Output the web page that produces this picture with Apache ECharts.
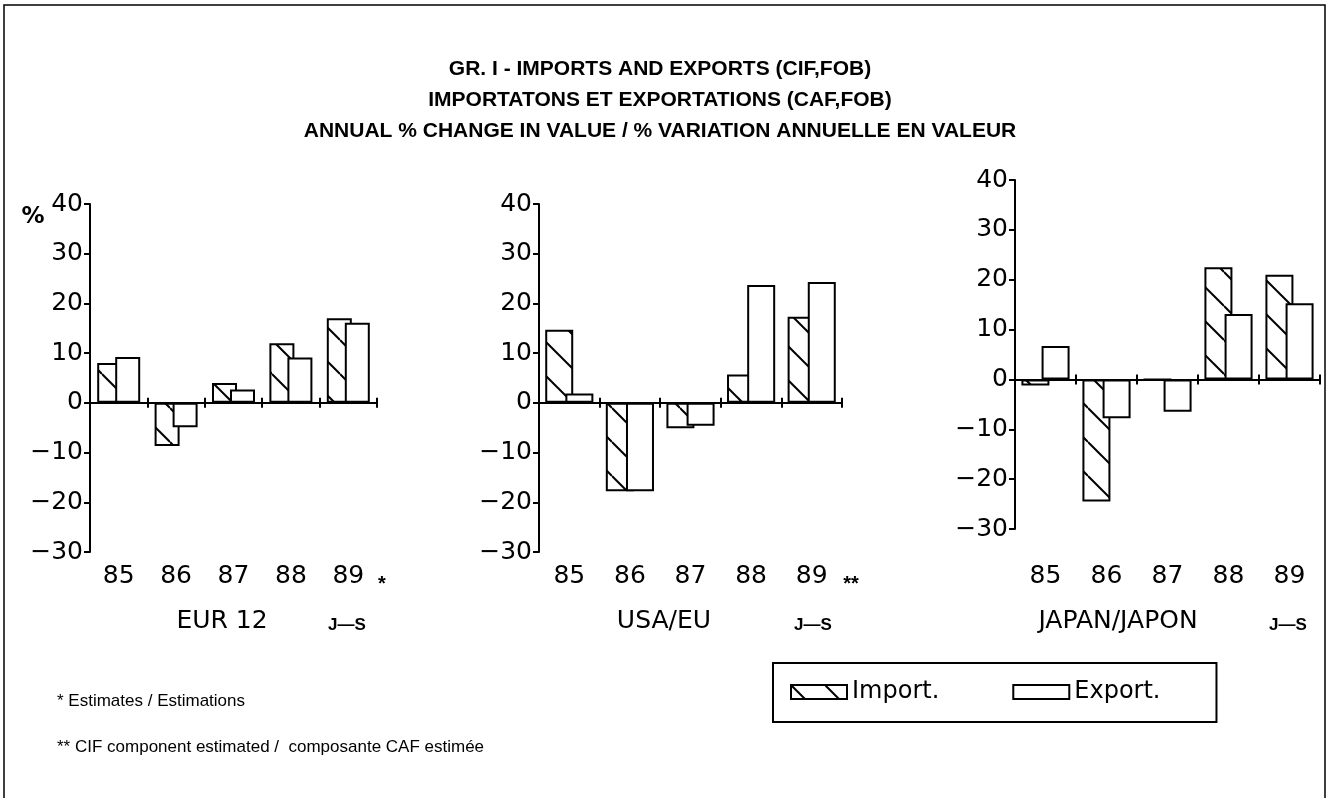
<!DOCTYPE html>
<html>
<head>
<meta charset="utf-8">
<title>GR. I - Imports and exports</title>
<script src="https://cdn.jsdelivr.net/npm/echarts@6/dist/echarts.min.js"></script>
<style>
    html, body {margin: 0; padding: 0; background: #fff;}
    #container {width: 1329px; height: 798px;}
</style>
</head>
<body>
<div id="container"></div>
<script>
// data (annual % change in value)
var categories = ['85', '86', '87', '88', '89'];
var yMin = -30, yMax = 40, yStep = 10;

var eurImport = [8, -8.7, 4, 12, 17];
var eurExport = [9.2, -4.9, 2.7, 9.1, 16.1];
var usaImport = [14.7, -17.8, -5.1, 5.7, 17.3];
var usaExport = [1.9, -17.8, -4.6, 23.7, 24.3];
var jpnImport = [-1.2, -24.5, 0, 22.5, 21];
var jpnExport = [6.7, -7.8, -6.5, 13.1, 15.3];

var panelNames = ['EUR 12', 'USA/EU', 'JAPAN/JAPON'];
var panelMarks = ['*', '**', ''];
var periodLabel = 'J\u2014S';
var seriesNames = ['Import.', 'Export.'];
var titleLines = [
    'GR. I - IMPORTS AND EXPORTS (CIF,FOB)',
    'IMPORTATONS ET EXPORTATIONS (CAF,FOB)',
    'ANNUAL % CHANGE IN VALUE / % VARIATION ANNUELLE EN VALEUR'
];
var footnotes = [
    '* Estimates / Estimations',
    '** CIF component estimated /  composante CAF estimée'
];

(function () {
    'use strict';
    var chart = echarts.init(document.getElementById('container'));
    var numFont = 'DejaVu Sans, Verdana, sans-serif';
    var textFont = 'Liberation Sans, Arial, Helvetica, sans-serif';

    // diagonal hatch used for the import bars
    function hatch(size) {
        var c = document.createElement('canvas');
        c.width = size;
        c.height = size;
        var ctx = c.getContext('2d');
        ctx.fillStyle = '#fff';
        ctx.fillRect(0, 0, size, size);
        ctx.strokeStyle = '#000';
        ctx.lineWidth = 2;
        [-size, 0, size].forEach(function (k) {
            ctx.beginPath();
            ctx.moveTo(0, k);
            ctx.lineTo(size, size + k);
            ctx.stroke();
        });
        return c;
    }
    var hatchFill = {image: hatch(34), repeat: 'repeat'};

    var panels = [
        {left: 90, top: 204, width: 287, height: 348, barWidth: 25, imp: eurImport, exp: eurExport,
            name: [222, 621], period: [347, 625], mark: [382, 584], labelMargin: 12},
        {left: 539, top: 204, width: 303, height: 348, barWidth: 28, imp: usaImport, exp: usaExport,
            name: [664, 621], period: [813, 625], mark: [851, 584], labelMargin: 12},
        {left: 1015, top: 180, width: 305, height: 349, barWidth: 28, imp: jpnImport, exp: jpnExport,
            name: [1118, 621], period: [1288, 625], mark: null, labelMargin: 35}
    ];

    var black = {color: '#000', width: 2};
    var clear = {color: 'rgba(0,0,0,0)', width: 0};
    var grid = [], xAxis = [], yAxis = [], series = [], graphic = [];

    panels.forEach(function (p, i) {
        grid.push({left: p.left, top: p.top, width: p.width, height: p.height});
        // axis line at zero with ticks below
        xAxis.push({
            gridIndex: i, type: 'category', data: categories, position: 'bottom',
            axisLine: {show: true, onZero: true, onZeroAxisIndex: i, lineStyle: black},
            axisTick: {show: true, length: 5, lineStyle: black},
            axisLabel: {show: false}, splitLine: {show: false}
        });
        // same ticks above the zero line
        xAxis.push({
            gridIndex: i, type: 'category', data: categories, position: 'bottom',
            axisLine: {show: true, onZero: true, onZeroAxisIndex: i, lineStyle: clear},
            axisTick: {show: true, inside: true, length: 5, lineStyle: black},
            axisLabel: {show: false}, splitLine: {show: false}
        });
        // year labels sit under the bottom of the value axis
        xAxis.push({
            gridIndex: i, type: 'category', data: categories, position: 'bottom',
            axisLine: {show: false, onZero: false},
            axisTick: {show: false},
            axisLabel: {margin: p.labelMargin, fontSize: 25, color: '#000', fontFamily: numFont},
            splitLine: {show: false}
        });
        yAxis.push({
            gridIndex: i, type: 'value', min: yMin, max: yMax, interval: yStep,
            axisLine: {show: true, onZero: false, lineStyle: black},
            axisTick: {show: true, length: 6, lineStyle: black},
            splitLine: {show: false},
            axisLabel: {
                margin: 7, fontSize: 25, color: '#000', fontFamily: numFont,
                formatter: function (v) {
                    return String(v).replace('-', '\u2212');
                }
            }
        });
        series.push({
            type: 'bar', name: seriesNames[0], xAxisIndex: i * 3, yAxisIndex: i,
            data: p.imp, barWidth: p.barWidth, barGap: '-28%',
            itemStyle: {color: hatchFill, borderColor: '#000', borderWidth: 2},
            emphasis: {disabled: true}
        });
        series.push({
            type: 'bar', name: seriesNames[1], xAxisIndex: i * 3, yAxisIndex: i,
            data: p.exp, barWidth: p.barWidth, barGap: '-28%',
            itemStyle: {color: '#fff', borderColor: '#000', borderWidth: 2},
            emphasis: {disabled: true}
        });

        graphic.push({
            type: 'text', x: p.name[0], y: p.name[1],
            style: {text: panelNames[i], font: '25px ' + numFont, fill: '#000', align: 'center', verticalAlign: 'middle'}
        });
        graphic.push({
            type: 'text', x: p.period[0], y: p.period[1],
            style: {text: periodLabel, font: 'bold 17px ' + textFont, fill: '#000', align: 'center', verticalAlign: 'middle'}
        });
        if (p.mark) {
            graphic.push({
                type: 'text', x: p.mark[0], y: p.mark[1],
                style: {text: panelMarks[i], font: 'bold 20px ' + textFont, fill: '#000', align: 'center', verticalAlign: 'middle'}
            });
        }
    });

    // main title, three centred lines
    titleLines.forEach(function (t, k) {
        graphic.push({
            type: 'text', x: 660, y: 69 + k * 31,
            style: {text: t, font: 'bold 21px ' + textFont, fill: '#000', align: 'center', verticalAlign: 'middle'}
        });
    });
    // % unit on the first panel
    graphic.push({
        type: 'text', x: 33, y: 217,
        style: {text: '%', font: 'bold 23px ' + numFont, fill: '#000', align: 'center', verticalAlign: 'middle'}
    });
    footnotes.forEach(function (t, k) {
        graphic.push({
            type: 'text', x: 57, y: [701, 747][k],
            style: {text: t, font: '17px ' + textFont, fill: '#000', align: 'left', verticalAlign: 'middle'}
        });
    });
    // frame round the whole figure
    graphic.push({
        type: 'rect', z: -1, shape: {x: 4, y: 5, width: 1321, height: 800},
        style: {fill: 'none', stroke: '#000', lineWidth: 1.5}
    });

    var options = {
        animation: false,
        backgroundColor: '#fff',
        legend: {
            left: 773, top: 663,
            data: seriesNames,
            icon: 'rect',
            itemWidth: 56, itemHeight: 14, itemGap: 73,
            borderColor: '#000', borderWidth: 2, borderRadius: 0,
            padding: [17, 56, 18, 17],
            textStyle: {fontSize: 24, color: '#000', fontFamily: numFont},
            selectedMode: false
        },
        grid: grid,
        xAxis: xAxis,
        yAxis: yAxis,
        series: series,
        graphic: graphic
    };
    chart.setOption(options);
})();
</script>
</body>
</html>
